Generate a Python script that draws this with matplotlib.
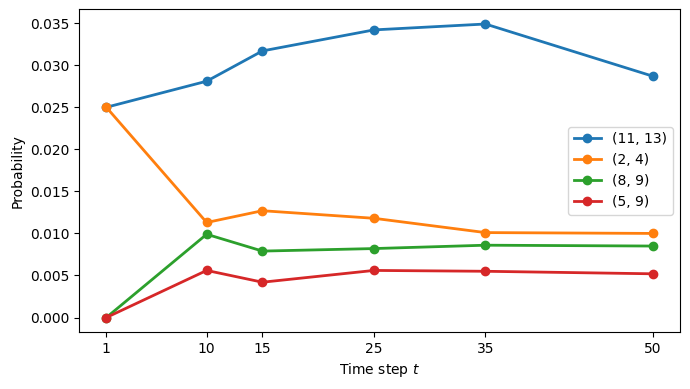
import matplotlib
matplotlib.use("Agg")
import matplotlib.pyplot as plt

time_steps = [1, 10, 15, 25, 35, 50]
series_labels = ["(11, 13)", "(2, 4)", "(8, 9)", "(5, 9)"]
p_11_13 = [0.0250, 0.0281, 0.0317, 0.0342, 0.0349, 0.0287]
p_2_4 = [0.0250, 0.0113, 0.0127, 0.0118, 0.0101, 0.0100]
p_8_9 = [0.0, 0.0099, 0.0079, 0.0082, 0.0086, 0.0085]
p_5_9 = [0.0, 0.0056, 0.0042, 0.0056, 0.0055, 0.0052]

fig, ax = plt.subplots(figsize=(6.9, 3.89), dpi=100)
for vals, lab in zip([p_11_13, p_2_4, p_8_9, p_5_9], series_labels):
    ax.plot(time_steps, vals, marker="o", linewidth=2, label=lab)

ax.set_xticks(time_steps)
ax.set_xlabel("Time step $t$")
ax.set_ylabel("Probability")
ax.legend(loc="center right")
fig.subplots_adjust(left=0.1145, right=0.9855, top=0.976, bottom=0.146)
fig.savefig("out.png", dpi=100)
